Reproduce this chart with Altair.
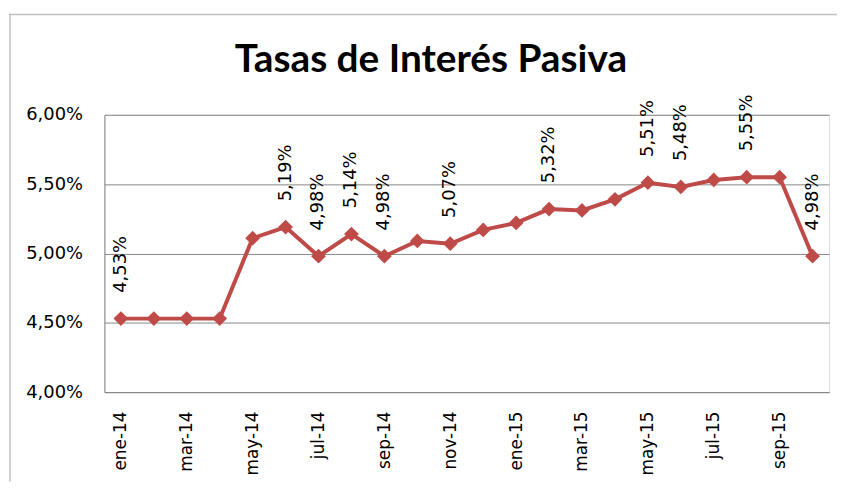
import altair as alt
import pandas as pd

months = ["ene-14", "feb-14", "mar-14", "abr-14", "may-14", "jun-14", "jul-14", "ago-14",
          "sep-14", "oct-14", "nov-14", "dic-14", "ene-15", "feb-15", "mar-15", "abr-15",
          "may-15", "jun-15", "jul-15", "ago-15", "sep-15", "oct-15"]
rates = [4.53, 4.53, 4.53, 4.53, 5.11, 5.19, 4.98, 5.14, 4.98, 5.09, 5.07, 5.17,
         5.22, 5.32, 5.31, 5.39, 5.51, 5.48, 5.53, 5.55, 5.55, 4.98]
show_label = [1, 0, 0, 0, 0, 1, 1, 1, 1, 0, 1, 0, 0, 1, 0, 0, 1, 1, 0, 1, 0, 1]
tick_months = months[::2]

df = pd.DataFrame({"mes": months, "tasa": rates, "show": show_label})
df["etiqueta"] = [(f"{v:.2f}".replace(".", ",") + "%") if s else "" for v, s in zip(rates, show_label)]

FONT = "DejaVu Sans"
TITLE_FONT = "Lato"
RED = "#BE4B48"
GRID = "#868686"
FRAME = "#C0C0C0"

x = alt.X("mes:N", sort=months, title=None,
          scale=alt.Scale(paddingInner=1, paddingOuter=0.5),
          axis=alt.Axis(values=tick_months, labelAngle=-90, labelAlign="right", labelBaseline="middle",
                        labelPadding=19, labelFontSize=17, labelFont=FONT, labelColor="#000000",
                        ticks=False, domainColor=GRID, grid=False))
y = alt.Y("tasa:Q", title=None,
          scale=alt.Scale(domain=[4.0, 6.0], nice=False, zero=False),
          axis=alt.Axis(values=[4.0, 4.5, 5.0, 5.5, 6.0],
                        labelExpr="replace(format(datum.value, '.2f'), '.', ',') + '%'",
                        labelPadding=22, labelFontSize=18, labelFont=FONT, labelColor="#000000",
                        ticks=False, domainColor=GRID, gridColor=GRID, gridWidth=1))

line = alt.Chart(df).mark_line(color=RED, strokeWidth=4).encode(x=x, y=y)
pts = alt.Chart(df).mark_point(shape="diamond", filled=True, color=RED, size=220, opacity=1).encode(x=x, y=y)
labels = alt.Chart(df).mark_text(angle=270, align="left", baseline="middle", dx=26,
                                 fontSize=18, font=FONT, color="#000000").encode(
    x=x, y=y, text="etiqueta:N")

# chart-area frame: only its top and left edges fall inside the picture
frame_src = pd.DataFrame({"f": [0]})
frame_top = alt.Chart(frame_src).mark_rule(color=FRAME, strokeWidth=1.5, clip=False).encode(
    x=alt.value(-96), x2=alt.value(737), y=alt.value(-101))
frame_left = alt.Chart(frame_src).mark_rule(color=FRAME, strokeWidth=1.5, clip=False).encode(
    x=alt.value(-95), y=alt.value(-101), y2=alt.value(369))

chart = (frame_top + frame_left + line + pts + labels).properties(
    width=729, height=279,
    autosize=alt.AutoSizeParams(type="none"),
    padding={"left": 97, "top": 106, "right": 8, "bottom": 90},
    title=alt.TitleParams("Tasas de Interés Pasiva", font=TITLE_FONT, fontSize=39, fontWeight="bold",
                          color="#000000", anchor="middle", frame="group", dx=-36, dy=99, offset=32),
).configure_view(stroke=None).configure(background="#ffffff")

chart.save("out.html", embed_options={"renderer": "svg", "actions": False})
